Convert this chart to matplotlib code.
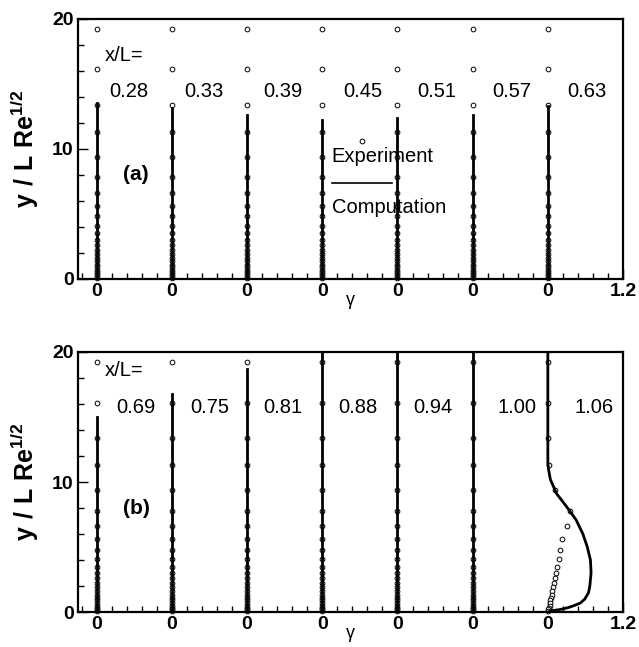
import matplotlib
matplotlib.use('Agg')
import matplotlib.pyplot as plt
from matplotlib.ticker import MultipleLocator, FixedLocator

plt.rcParams['font.family'] = ['Liberation Sans', 'DejaVu Sans']
plt.rcParams['mathtext.fontset'] = 'custom'
plt.rcParams['mathtext.rm'] = 'Liberation Sans'
plt.rcParams['mathtext.bf'] = 'Liberation Sans:bold'

# stations x/L
stations_a = ['0.28', '0.33', '0.39', '0.45', '0.51', '0.57', '0.63']
stations_b = ['0.69', '0.75', '0.81', '0.88', '0.94', '1.00', '1.06']

# experiment: measured y / L Re^1/2 (same grid at every station)
y_exp = [19.2, 16.1, 13.4, 11.3, 9.4, 7.8, 6.6, 5.6, 4.8, 4.1, 3.5, 3.0,
         2.6, 2.2, 1.9, 1.6, 1.35, 1.1, 0.9, 0.7, 0.5, 0.35, 0.2, 0.1]
gamma_exp_zero = [0.0] * len(y_exp)
# x/L = 1.06, transition starts
gamma_exp_106 = [0.0, 0.0, 0.0, 0.02, 0.12, 0.35, 0.30, 0.23, 0.20, 0.18, 0.15, 0.13,
                 0.11, 0.10, 0.08, 0.07, 0.06, 0.05, 0.04, 0.03, 0.03, 0.02, 0.01, 0.0]

# computation: laminar (gamma = 0) up to the top of the computed profile
comp_top_a = [13.5, 13.1, 12.6, 12.2, 12.4, 12.6, 13.3]
comp_top_b = [15.0, 16.8, 18.7, 20.0, 20.0, 20.0, 20.0]
y_comp_106 = [0, 0.1, 0.2, 0.35, 0.5, 0.7, 1.0, 1.5, 2.0, 3.0, 4.0, 5.0, 6.0,
              7.1, 8.1, 9.1, 10.2, 11.0, 11.5, 20.0]
gamma_comp_106 = [0, 0.06, 0.2, 0.33, 0.42, 0.52, 0.59, 0.65, 0.67, 0.69, 0.68, 0.63,
                  0.56, 0.45, 0.30, 0.14, 0.04, 0.01, 0.0, 0.0]

shift = 1.2  # each profile is shifted by this much in gamma
label_x_a = [0.51, 1.71, 2.97, 4.25, 5.43, 6.63, 7.82]
label_x_b = [0.62, 1.80, 2.97, 4.17, 5.37, 6.71, 7.93]


def setup_axes(ax):
    ax.set_xlim(-0.3, 8.4)
    ax.set_ylim(0, 20)
    ax.xaxis.set_major_locator(FixedLocator([shift * i for i in range(8)]))
    ax.set_xticklabels(['0'] * 7 + ['1.2'])
    ax.xaxis.set_minor_locator(MultipleLocator(0.24))
    ax.yaxis.set_major_locator(FixedLocator([0, 10, 20]))
    ax.yaxis.set_minor_locator(MultipleLocator(2))
    ax.tick_params(which='both', direction='in', top=False, right=False,
                   width=1.0, labelsize=14, pad=3)
    ax.tick_params(which='major', length=7)
    ax.tick_params(which='minor', length=4)
    for lab in ax.get_xticklabels() + ax.get_yticklabels():
        lab.set_fontweight('bold')
    for s in ax.spines.values():
        s.set_linewidth(1.6)
    ax.set_xlabel('γ', fontsize=13, labelpad=-6)
    ax.set_ylabel(r'$\mathbf{y\ /\ L\ Re^{1/2}}$', fontsize=18, labelpad=8)


def draw_panel(ax, stations, tops, label_x, label_y, tag):
    for i, name in enumerate(stations):
        x0 = shift * i
        if name == '1.06':
            ax.plot([x0 + g for g in gamma_comp_106], y_comp_106, color='black', lw=2.0, zorder=3)
            gexp = gamma_exp_106
        else:
            ax.plot([x0, x0], [0, tops[i]], color='black', lw=2.0, zorder=3)
            gexp = gamma_exp_zero
        ax.plot([x0 + g for g in gexp], y_exp, 'o', ms=3.4, mfc='white',
                mec='black', mew=0.7, clip_on=False, zorder=2)
        ax.text(label_x[i], label_y, name, fontsize=14.5, ha='center', va='center')
    ax.text(0.63, 8.0, tag, fontsize=15, fontweight='bold', ha='center', va='center')


fig = plt.figure(figsize=(6.39, 6.47), dpi=100)
ax1 = fig.add_axes([0.122, 0.569, 0.853, 0.402])
ax2 = fig.add_axes([0.122, 0.054, 0.853, 0.402])

draw_panel(ax1, stations_a, comp_top_a, label_x_a, 14.4, '(a)')
ax1.text(0.12, 17.2, 'x/L=', fontsize=14.5, ha='left', va='center')

# legend drawn inside panel (a)
ax1.plot([4.23], [10.6], 'o', ms=3.4, mfc='white', mec='black', mew=0.7)
ax1.text(3.75, 9.4, 'Experiment', fontsize=14.5, ha='left', va='center')
ax1.plot([3.75, 4.72], [7.4, 7.4], color='black', lw=1.2)
ax1.text(3.75, 5.5, 'Computation', fontsize=14.5, ha='left', va='center')

draw_panel(ax2, stations_b, comp_top_b, label_x_b, 15.7, '(b)')
ax2.text(0.12, 18.6, 'x/L=', fontsize=14.5, ha='left', va='center')

setup_axes(ax1)
setup_axes(ax2)

fig.savefig('out.png', dpi=100)
